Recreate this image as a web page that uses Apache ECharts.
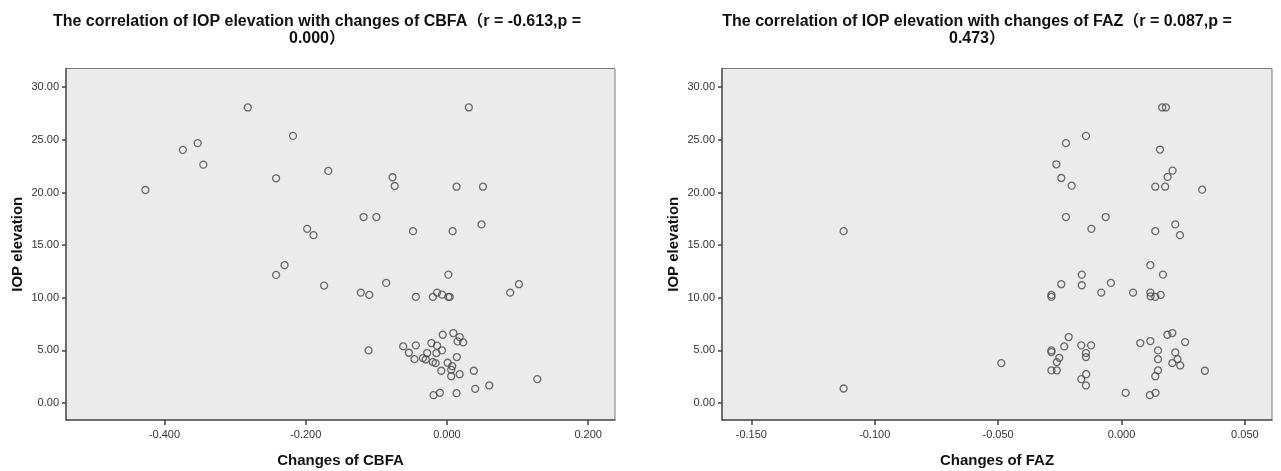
<!DOCTYPE html>
<html>
<head>
<meta charset="utf-8">
<title>IOP elevation correlation</title>
<script src="https://cdn.jsdelivr.net/npm/echarts@6/dist/echarts.min.js"></script>
<style>
	html, body { margin: 0; padding: 0; background: #fff; }
	#main { width: 1281px; height: 471px; }
</style>
</head>
<body>
<div id="main"></div>
<script>
	// 左图：CBFA 变化 vs IOP 升高
	var cbfaX = [-0.282, -0.218, -0.374, -0.353, -0.345, -0.168, -0.242, -0.427, -0.198, -0.189, -0.230,
		0.031, -0.077, -0.074, 0.0136, 0.051, -0.118, -0.100, -0.048, 0.008, 0.049,
		-0.242, -0.174, 0.002, -0.086, -0.122, -0.110, -0.044, -0.020, -0.014, -0.007, 0.002, 0.004, 0.0896, 0.102,
		-0.006, 0.009, 0.018, 0.015, 0.023, -0.062, -0.044, -0.022, -0.014, -0.007, -0.111, -0.054, -0.046,
		-0.028, -0.015, -0.034, -0.030, 0.014, -0.020, -0.016, 0.001, 0.0075, 0.006, -0.008, 0.018, 0.006,
		0.038, 0.128, 0.060, 0.040, -0.019, -0.010, 0.0136];
	var cbfaY = [28.08, 25.38, 24.05, 24.69, 22.65, 22.05, 21.35, 20.24, 16.55, 15.95, 13.10,
		28.08, 21.45, 20.62, 20.55, 20.55, 17.67, 17.67, 16.33, 16.33, 16.97,
		12.17, 11.16, 12.20, 11.41, 10.49, 10.27, 10.08, 10.08, 10.49, 10.30, 10.08, 10.08, 10.49, 11.29,
		6.49, 6.65, 6.27, 5.86, 5.76, 5.38, 5.48, 5.70, 5.45, 5.00, 5.00, 4.78, 4.17,
		4.75, 4.75, 4.27, 4.14, 4.37, 3.89, 3.79, 3.83, 3.50, 3.16, 3.07, 2.74, 2.55,
		3.07, 2.27, 1.67, 1.35, 0.75, 0.97, 0.94];

	// 右图：FAZ 变化 vs IOP 升高
	var fazX = [-0.1126, 0.0165, 0.0180, -0.0144, -0.0225, 0.0156, -0.0264, 0.0207, 0.0187, -0.0244, -0.0202,
		0.0137, 0.0177, 0.0327, -0.0225, -0.0064, -0.0122, 0.0137, 0.0218, 0.0237, 0.0117,
		0.0168, -0.0161, -0.0244, -0.0161, -0.0043, -0.0082, 0.0047, -0.0284, -0.0284, 0.0117, 0.0118, 0.0137, 0.0159,
		0.0206, 0.0186, -0.0214, 0.0117, 0.0076, 0.0258, -0.0232, -0.0163, -0.0123, -0.0284, -0.0284, -0.0144,
		-0.0144, 0.0148, 0.0218, -0.0252, 0.0148, 0.0227, -0.0262, 0.0206, 0.0238, -0.0487, 0.0148, 0.0338,
		-0.0284, -0.0262, 0.0137, -0.0143, -0.0163, -0.0144, 0.0017, 0.0115, 0.0138, -0.1126];
	var fazY = [16.33, 28.08, 28.08, 25.38, 24.69, 24.08, 22.68, 22.08, 21.48, 21.38, 20.65,
		20.55, 20.55, 20.27, 17.67, 17.67, 16.55, 16.33, 16.97, 15.95, 13.10,
		12.20, 12.20, 11.29, 11.19, 11.41, 10.49, 10.49, 10.27, 10.08, 10.49, 10.14, 10.08, 10.27,
		6.65, 6.49, 6.27, 5.89, 5.70, 5.79, 5.38, 5.48, 5.48, 5.00, 4.84, 4.75,
		4.37, 5.00, 4.81, 4.30, 4.17, 4.17, 3.89, 3.79, 3.57, 3.79, 3.10, 3.07,
		3.10, 3.10, 2.55, 2.74, 2.27, 1.67, 0.97, 0.75, 0.97, 1.38];

	var yTicks = [0, 5, 10, 15, 20, 25, 30];
	var cbfaTicks = [-0.4, -0.2, 0, 0.2];
	var fazTicks = [-0.15, -0.1, -0.05, 0, 0.05];

	var titles = [
		'The correlation of IOP elevation with changes of CBFA（r = -0.613,p =\n0.000）',
		'The correlation of IOP elevation with changes of FAZ（r = 0.087,p =\n0.473）'
	];

	function zip(xs, ys) {
		var out = [];
		for (var i = 0; i < xs.length; i++) out.push([xs[i], ys[i]]);
		return out;
	}

	var font = "'Liberation Sans', Arial, 'Noto Sans CJK SC', sans-serif";

	function xAxis(idx, name, min, max, ticks) {
		return {
			type: 'value', gridIndex: idx, min: min, max: max,
			name: name, nameLocation: 'middle', nameGap: 33,
			nameTextStyle: { fontFamily: font, fontSize: 15, fontWeight: 'bold', color: '#111' },
			axisLine: { show: true, onZero: false, lineStyle: { color: '#555', width: 1.5 } },
			axisTick: { show: true, inside: false, length: 5, customValues: ticks, lineStyle: { color: '#444', width: 1.5 } },
			axisLabel: { customValues: ticks, margin: 9, fontFamily: font, fontSize: 11, color: '#333',
				formatter: function(v) { return v.toFixed(3); } },
			splitLine: { show: false }
		};
	}

	function yAxis(idx) {
		return {
			type: 'value', gridIndex: idx, min: -1.61, max: 31.78,
			name: 'IOP elevation', nameLocation: 'middle', nameGap: 41,
			nameTextStyle: { fontFamily: font, fontSize: 15, fontWeight: 'bold', color: '#111' },
			axisLine: { show: true, onZero: false, lineStyle: { color: '#555', width: 1.5 } },
			axisTick: { show: true, inside: false, length: 4, customValues: yTicks, lineStyle: { color: '#444', width: 1.5 } },
			axisLabel: { customValues: yTicks, margin: 7, fontFamily: font, fontSize: 11, color: '#333',
				formatter: function(v) { return v.toFixed(2); } },
			splitLine: { show: false }
		};
	}

	function scatter(idx, data) {
		return {
			type: 'scatter', xAxisIndex: idx, yAxisIndex: idx,
			data: data, symbol: 'circle', symbolSize: 7,
			itemStyle: { color: 'rgba(0,0,0,0)', borderColor: '#4a4a4a', borderWidth: 1.3 },
			emphasis: { disabled: true }
		};
	}

	var titleStyle = { fontFamily: font, fontSize: 16, fontWeight: 'bold', color: '#111', lineHeight: 17 };

	var myChart = echarts.init(document.getElementById('main'));
	myChart.setOption({
		backgroundColor: '#fff',
		animation: false,
		title: [
			{ text: titles[0], left: 312, top: 8, textAlign: 'center', textStyle: titleStyle },
			{ text: titles[1], left: 972, top: 8, textAlign: 'center', textStyle: titleStyle }
		],
		grid: [
			{ left: 66, top: 68.5, width: 549, height: 351.5, outerBoundsMode: 'none', containLabel: false,
				show: true, backgroundColor: '#ebebeb', borderColor: '#7a7a7a', borderWidth: 1 },
			{ left: 722, top: 68.5, width: 550, height: 351.5, outerBoundsMode: 'none', containLabel: false,
				show: true, backgroundColor: '#ebebeb', borderColor: '#7a7a7a', borderWidth: 1 }
		],
		xAxis: [
			xAxis(0, 'Changes of CBFA', -0.5395, 0.238, cbfaTicks),
			xAxis(1, 'Changes of FAZ', -0.1619, 0.061, fazTicks)
		],
		yAxis: [yAxis(0), yAxis(1)],
		series: [scatter(0, zip(cbfaX, cbfaY)), scatter(1, zip(fazX, fazY))]
	});
</script>
</body>
</html>
